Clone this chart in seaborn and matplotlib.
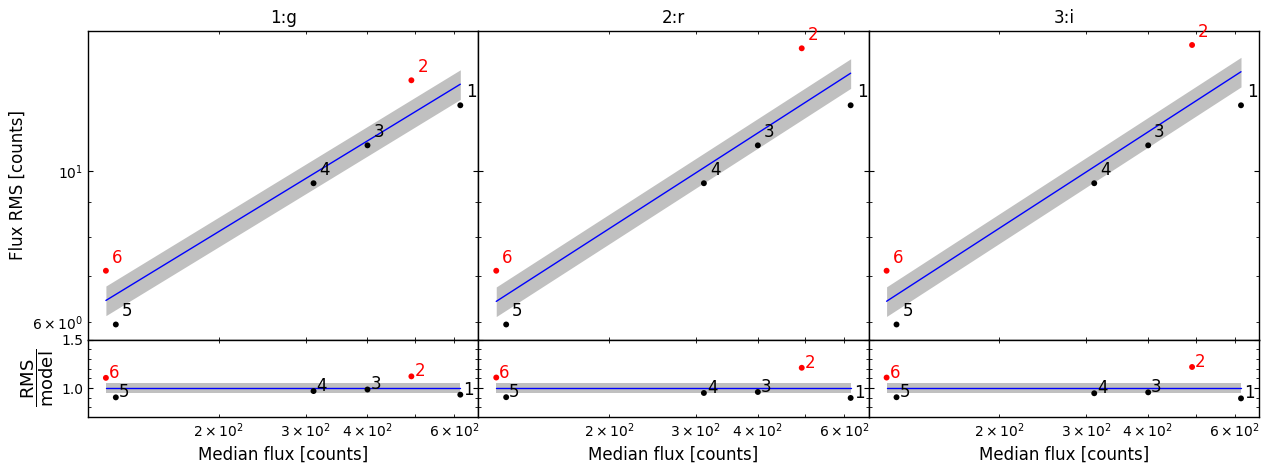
import numpy as np
import pandas as pd
import matplotlib
matplotlib.use("Agg")
import matplotlib.pyplot as plt
import seaborn as sns
from matplotlib.ticker import MultipleLocator

# ---------------- data ----------------
star_ids = ["1", "2", "3", "4", "5", "6"]
median_flux = [617.9, 491.7, 400.6, 311.4, 123.7, 118.1]
outlier = [False, True, False, False, False, True]

bands = ["1:g", "2:r", "3:i"]
rms_g = [12.48, 13.58, 10.9, 9.59, 5.95, 7.135]
rms_r = [12.48, 15.13, 10.9, 9.59, 5.95, 7.135]
rms_i = [12.48, 15.30, 10.9, 9.59, 5.95, 7.135]
rms_by_band = [rms_g, rms_r, rms_i]

# power-law model RMS = norm * (flux/100)^slope
model_norm = [5.996, 5.953, 5.953]
model_slope = [0.4416, 0.466, 0.4687]
band_frac = 0.05

xlim = (108.6, 672.0)
ylim_top = (5.65, 16.04)
ylim_bot = (0.70, 1.50)

# ---------------- style ----------------
sns.set_style("ticks")
plt.rcParams.update({
    "font.family": ["DejaVu Sans"],
    "text.color": "black", "axes.labelcolor": "black",
    "xtick.direction": "in", "ytick.direction": "in",
    "xtick.top": True, "ytick.right": True,
    "xtick.labelsize": 10, "ytick.labelsize": 10,
    "axes.labelsize": 12, "axes.titlesize": 12,
    "axes.edgecolor": "black", "axes.linewidth": 1.0,
    "xtick.color": "black", "ytick.color": "black",
    "xtick.labelcolor": "black", "ytick.labelcolor": "black",
})

fig, axes = plt.subplots(2, 3, figsize=(12.69, 4.70), dpi=100,
                         sharex=True, sharey="row",
                         gridspec_kw=dict(height_ratios=[4, 1], hspace=0, wspace=0))
fig.subplots_adjust(left=0.0693, right=0.9921, top=0.934, bottom=0.1128)

flux = np.array(median_flux)
for j, band in enumerate(bands):
    rms = np.array(rms_by_band[j])
    model_pts = model_norm[j] * (flux / 100.0) ** model_slope[j]
    ratio = rms / model_pts
    grid = np.geomspace(flux.min(), flux.max(), 50)
    model_grid = model_norm[j] * (grid / 100.0) ** model_slope[j]

    df = pd.DataFrame({"flux": flux, "rms": rms, "ratio": ratio,
                       "out": ["out" if o else "in" for o in outlier],
                       "id": star_ids})
    mdf = pd.DataFrame({"flux": grid, "model": model_grid, "one": np.ones_like(grid)})

    ax = axes[0, j]
    axb = axes[1, j]

    # top panel
    ax.fill_between(grid, model_grid * (1 - band_frac), model_grid * (1 + band_frac),
                    color="silver", lw=0, zorder=1)
    sns.lineplot(data=mdf, x="flux", y="model", color="blue", lw=1, ax=ax, zorder=2)
    sns.scatterplot(data=df, x="flux", y="rms", hue="out",
                    palette={"in": "black", "out": "red"}, s=18, linewidth=0,
                    legend=False, ax=ax, zorder=3)
    for _, r in df.iterrows():
        ax.annotate(r["id"], (r["flux"], r["rms"]), xytext=(6, 8),
                    textcoords="offset pixels", fontsize=12,
                    color="red" if r["out"] == "out" else "black")

    # bottom panel
    axb.fill_between(grid, 1 - band_frac, 1 + band_frac, color="silver", lw=0, zorder=1)
    sns.lineplot(data=mdf, x="flux", y="one", color="blue", lw=1, ax=axb, zorder=2)
    sns.scatterplot(data=df, x="flux", y="ratio", hue="out",
                    palette={"in": "black", "out": "red"}, s=18, linewidth=0,
                    legend=False, ax=axb, zorder=3)
    for _, r in df.iterrows():
        axb.annotate(r["id"], (r["flux"], r["ratio"]), xytext=(3, 0),
                     textcoords="offset pixels", fontsize=12,
                     color="red" if r["out"] == "out" else "black")

    ax.set_xscale("log")
    ax.set_yscale("log")
    ax.set_title(band, color="black")
    ax.set_xlabel("")
    ax.set_ylabel("")
    axb.set_ylabel("")
    axb.set_xlabel("Median flux [counts]")
    axb.yaxis.set_major_locator(MultipleLocator(0.5))
    axb.yaxis.set_minor_locator(MultipleLocator(0.1))
    for a in (ax, axb):
        a.tick_params(which="both", top=True, right=True, direction="in")

axes[0, 0].set_xlim(*xlim)
axes[0, 0].set_ylim(*ylim_top)
axes[1, 0].set_ylim(*ylim_bot)
axes[0, 0].set_ylabel("Flux RMS [counts]")
axes[1, 0].set_ylabel(r"$\dfrac{\mathrm{RMS}}{\mathrm{model}}$", fontsize=13)

fig.savefig("out.png", dpi=100)
